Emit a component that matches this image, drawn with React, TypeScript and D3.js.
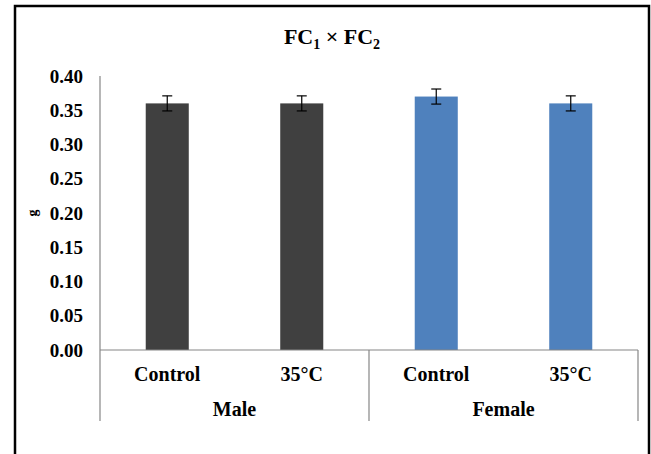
import React from "react";
import * as d3 from "d3";

const groups = ["Male", "Female"];
const categories = ["Control", "35°C", "Control", "35°C"];
const values = [0.36, 0.36, 0.37, 0.36];
const errors = [0.011, 0.011, 0.011, 0.011];
const colors = ["#404040", "#404040", "#4f81bd", "#4f81bd"];
const yTicks = [0, 0.05, 0.1, 0.15, 0.2, 0.25, 0.3, 0.35, 0.4];

const W = 651;
const H = 454;
const left = 100;
const right = 638;
const top = 76;
const bottom = 350;
const font = "Liberation Serif, Times New Roman, DejaVu Serif, serif";

export default function App() {
  const y = d3.scaleLinear().domain([0, 0.4]).range([bottom, top]);
  const x = d3
    .scaleBand<number>()
    .domain(d3.range(values.length))
    .range([left, right])
    .paddingInner(0.68)
    .paddingOuter(0.34);
  const step = (right - left) / values.length;
  const groupX = d3.scaleBand<string>().domain(groups).range([left, right]);
  const axisColor = "#868686";
  const ts = { fontFamily: font, fontWeight: 700 } as React.CSSProperties;

  return (
    <svg
      width={W}
      height={H}
      style={{ position: "absolute", left: 0, top: 0, background: "#fff" }}
    >
      <rect x={15} y={6} width={634} height={460} fill="#fff" stroke="#000" strokeWidth={2.5} />
      <text x={332} y={44} textAnchor="middle" style={{ ...ts, fontSize: 22 }}>
        FC<tspan style={{ fontSize: 14 }} dy={5}>1</tspan>
        <tspan dy={-5}> × FC</tspan>
        <tspan style={{ fontSize: 14 }} dy={5}>2</tspan>
      </text>
      {/* y axis */}
      <line x1={left} x2={left} y1={top} y2={bottom} stroke={axisColor} strokeWidth={1.2} />
      {yTicks.map((t) => (
        <text
          key={t}
          x={83}
          y={y(t)}
          dy="0.35em"
          textAnchor="end"
          style={{ ...ts, fontSize: 19 }}
        >
          {t.toFixed(2)}
        </text>
      ))}
      <text
        transform={`translate(32.5,${y(0.2)}) rotate(-90)`}
        textAnchor="middle"
        dy="0.3em"
        style={{ ...ts, fontSize: 14 }}
      >
        g
      </text>
      {/* bars */}
      {values.map((v, i) => (
        <rect
          key={i}
          x={x(i)}
          y={y(v)}
          width={x.bandwidth()}
          height={bottom - y(v)}
          fill={colors[i]}
        />
      ))}
      {values.map((v, i) => {
        const cx = (x(i) as number) + x.bandwidth() / 2;
        return (
          <g key={"e" + i} stroke="#000" strokeWidth={1.2}>
            <line x1={cx} x2={cx} y1={y(v + errors[i])} y2={y(v - errors[i])} />
            <line x1={cx - 5} x2={cx + 5} y1={y(v + errors[i])} y2={y(v + errors[i])} />
            <line x1={cx - 5} x2={cx + 5} y1={y(v - errors[i])} y2={y(v - errors[i])} />
          </g>
        );
      })}
      {/* x axis */}
      <line x1={left} x2={right} y1={bottom} y2={bottom} stroke={axisColor} strokeWidth={1.2} />
      {[left, left + 2 * step, right].map((gx, i) => (
        <line key={i} x1={gx} x2={gx} y1={bottom} y2={421} stroke={axisColor} strokeWidth={1.2} />
      ))}
      {categories.map((c, i) => (
        <text
          key={i}
          x={left + step * (i + 0.5)}
          y={381}
          textAnchor="middle"
          style={{ ...ts, fontSize: 20 }}
        >
          {c}
        </text>
      ))}
      {groups.map((g) => (
        <text
          key={g}
          x={(groupX(g) as number) + groupX.bandwidth() / 2}
          y={416}
          textAnchor="middle"
          style={{ ...ts, fontSize: 20 }}
        >
          {g}
        </text>
      ))}
    </svg>
  );
}
